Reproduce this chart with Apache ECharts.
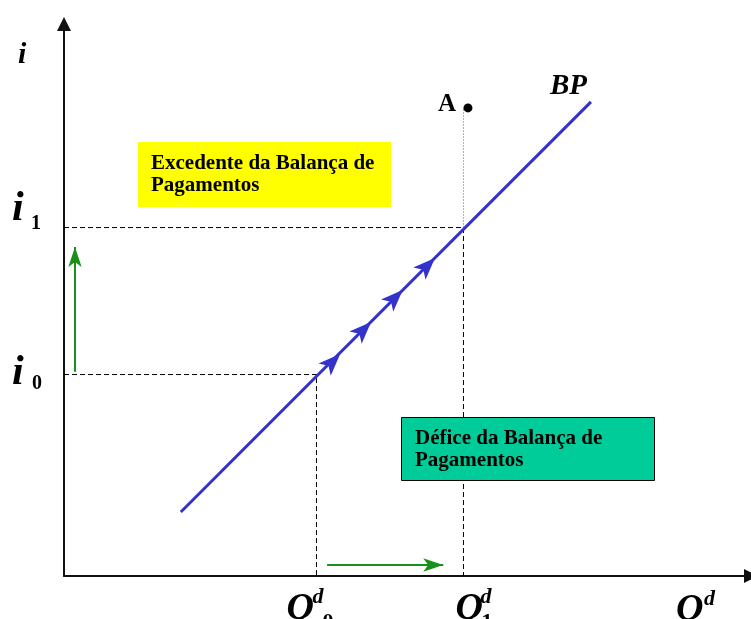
<!DOCTYPE html>
<html>
<head>
<meta charset="utf-8">
<script src="https://cdn.jsdelivr.net/npm/echarts@6/dist/echarts.min.js"></script>
<style>
  html, body { margin: 0; padding: 0; background: #fff; }
  #chart { width: 751px; height: 619px; }
</style>
</head>
<body>
<div id="chart"></div>
<script>
// values (axis units 0..100)
const q0 = 36.75
const q1 = 58.15
const i0 = 36.5
const i1 = 63.13
const bpLine = [[17.0, 11.6], [76.7, 85.9]]
const bpArrows = [[40.2, 40.2], [44.7, 46.0], [49.3, 51.8], [54.0, 57.6]]
const pointA = [58.8, 84.8]
const upArrow = [[1.6, 37.0], [1.6, 59.6]]
const rightArrow = [[38.3, 2.0], [55.2, 2.0]]

const serif = '"Times New Roman", "Liberation Serif", serif'
const blue = '#3333cc'
const green = '#1a8f1a'

const chart = echarts.init(document.getElementById('chart'))

const dashed = {
  color: '#000',
  width: 1,
  type: [5, 3]
}

const axisStyle = {
  show: true,
  lineStyle: { color: '#111', width: 2 },
  symbol: ['none', 'triangle'],
  symbolSize: [14, 14]
}

chart.setOption({
  animation: false,
  grid: { left: 64, right: 0, top: 24, bottom: 43 },
  xAxis: {
    type: 'value', min: 0, max: 100,
    axisLine: axisStyle,
    axisTick: { show: false },
    axisLabel: { show: false },
    splitLine: { show: false }
  },
  yAxis: {
    type: 'value', min: 0, max: 100,
    axisLine: axisStyle,
    axisTick: { show: false },
    axisLabel: { show: false },
    splitLine: { show: false }
  },
  series: [
    {
      type: 'line', data: [[0, i0], [q0, i0], [q0, 0]],
      symbol: 'none', lineStyle: dashed, z: 1
    },
    {
      type: 'line', data: [[0, i1], [q1, i1], [q1, 0]],
      symbol: 'none', lineStyle: dashed, z: 1
    },
    {
      type: 'line', data: [[q1, i1], [q1, pointA[1]]],
      symbol: 'none', lineStyle: { color: '#666', width: 1, type: [1, 2] }, z: 1
    },
    {
      type: 'line', data: bpLine,
      symbol: 'none', lineStyle: { color: blue, width: 3 }, z: 3
    },
    {
      type: 'scatter', data: bpArrows,
      symbol: 'arrow', symbolSize: [13, 22], symbolRotate: -45,
      itemStyle: { color: blue, opacity: 1 }, z: 4
    },
    {
      type: 'scatter', data: [pointA],
      symbol: 'circle', symbolSize: 9,
      itemStyle: { color: '#000', opacity: 1 }, z: 4
    },
    // green arrows: shaft + head
    {
      type: 'line', data: upArrow,
      symbol: 'none', lineStyle: { color: green, width: 2 }, z: 4
    },
    {
      type: 'line', data: rightArrow,
      symbol: 'none', lineStyle: { color: green, width: 2 }, z: 4
    },
    {
      type: 'scatter', data: [upArrow[1]],
      symbol: 'arrow', symbolSize: [10, 20],
      itemStyle: { color: green, opacity: 1 }, z: 5
    },
    {
      type: 'scatter', data: [rightArrow[1]],
      symbol: 'arrow', symbolSize: [10, 20], symbolRotate: -90,
      itemStyle: { color: green, opacity: 1 }, z: 5
    }
  ]
})

const px = (pt) => chart.convertToPixel({ gridIndex: 0 }, pt)

function label(text, x, y, size, italic) {
  return {
    type: 'text', x: x, y: y, z: 20,
    style: {
      text: text,
      font: (italic ? 'italic ' : '') + 'bold ' + size + 'px ' + serif,
      fill: '#000',
      align: 'left', verticalAlign: 'middle',
      textAlign: 'left', textVerticalAlign: 'middle'
    }
  }
}

const pI0 = px([0, i0])
const pI1 = px([0, i1])
const pQ0 = px([q0, 0])
const pQ1 = px([q1, 0])
const pA = px(pointA)
const pBP = px(bpLine[1])

chart.setOption({
  graphic: [
    label('i', 18, 55, 30, true),
    label('i', 12, pI1[1] - 18, 42, true),
    label('1', 31, pI1[1] - 4, 20, false),
    label('i', 12, pI0[1] - 1, 42, true),
    label('0', 32, pI0[1] + 9, 20, false),
    label('Q', pQ0[0] - 30, 609, 38, true),
    label('d', pQ0[0] - 4, 597, 22, true),
    label('0', pQ0[0] + 6, 622, 22, false),
    label('Q', pQ1[0] - 8, 609, 38, true),
    label('d', pQ1[0] + 17, 597, 22, true),
    label('1', pQ1[0] + 18, 622, 22, false),
    label('Q', 676, 610, 38, true),
    label('d', 704, 599, 22, true),
    label('A', pA[0] - 30, pA[1] - 3, 25, false),
    label('BP', pBP[0] - 41, pBP[1] - 15, 29, true),
    {
      type: 'rect', z: 10,
      shape: { x: 138, y: 142, width: 253, height: 65 },
      style: { fill: '#ffff00' }
    },
    label('Excedente da Balança de', 151, 163.5, 21, false),
    label('Pagamentos', 151, 185.5, 21, false),
    {
      type: 'rect', z: 10,
      shape: { x: 401.5, y: 417.5, width: 253, height: 63 },
      style: { fill: '#00cc99', stroke: '#000', lineWidth: 1 }
    },
    label('Défice da Balança de', 415, 438.5, 21, false),
    label('Pagamentos', 415, 460.5, 21, false)
  ]
})
</script>
</body>
</html>
